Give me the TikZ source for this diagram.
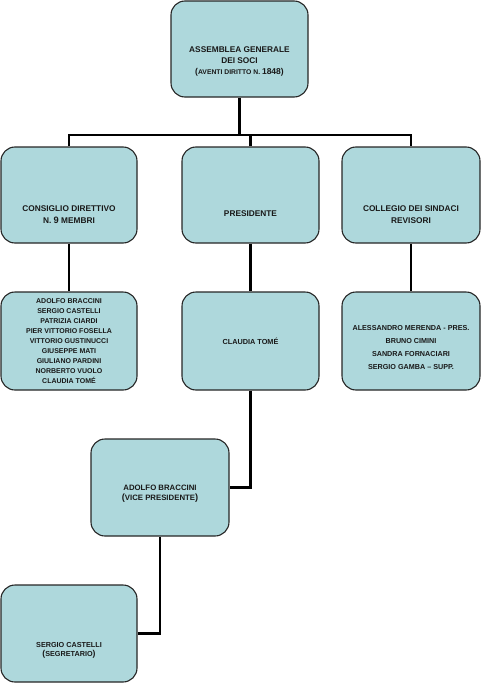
\documentclass[tikz,border=0pt]{standalone}
\usepackage{fontspec}
\setmainfont{Liberation Sans}
\definecolor{boxfill}{RGB}{174,216,220}
\newcommand\fsz[2]{\fontsize{#1}{#2}\selectfont}
\newcommand\bigd[2]{{\fontsize{#1}{10}\selectfont #2}}
\begin{document}
\begin{tikzpicture}[x=1pt,y=-1pt,
  box/.style={draw=black!85, line width=1.1pt, fill=boxfill, rounded corners=14pt, inner sep=0pt},
  conn/.style={line width=2.2pt, black},
  txt/.style={align=center, inner sep=0pt, text=black!90}]
\useasboundingbox (0,0) rectangle (481,685);
% boxes
\node[box, minimum width=137pt, minimum height=96pt] (top) at (239.5,49) {};
\node[box, minimum width=136pt, minimum height=96pt] (b1) at (69,195) {};
\node[box, minimum width=137pt, minimum height=96pt] (b2) at (250.5,195) {};
\node[box, minimum width=138pt, minimum height=96pt] (b3) at (411,195) {};
\node[box, minimum width=136pt, minimum height=98pt] (c1) at (69,341) {};
\node[box, minimum width=137pt, minimum height=98pt] (c2) at (250.5,341) {};
\node[box, minimum width=138pt, minimum height=98pt] (c3) at (411,341) {};
\node[box, minimum width=138pt, minimum height=97pt] (vp) at (160,487.5) {};
\node[box, minimum width=136pt, minimum height=97pt] (sec) at (69,633.5) {};
% texts
\node[txt, font={\bfseries\fsz{8.3}{11.3}}] (ttop) at (239.5,61.5) {ASSEMBLEA GENERALE\\DEI SOCI\\{\fsz{6.8}{11.3}\bigd{8.5}{(}AVENTI DIRITTO N. \bigd{8.5}{1848)}}};
\node[txt, font={\bfseries\fsz{8.3}{12.6}}] (tb1) at (69,214.5) {CONSIGLIO DIRETTIVO\\N. \bigd{9.3}{9} MEMBRI};
\node[txt, font={\bfseries\fsz{8.3}{12.6}}] (tb2) at (250.5,214) {PRESIDENTE};
\node[txt, font={\bfseries\fsz{8.3}{12.6}}] (tb3) at (411,214.5) {COLLEGIO DEI SINDACI\\REVISORI};
\node[txt, font={\bfseries\fsz{7.0}{10.1}}] (tc1) at (69,341) {ADOLFO BRACCINI\\SERGIO CASTELLI\\PATRIZIA CIARDI\\PIER VITTORIO FOSELLA\\VITTORIO GUSTINUCCI\\GIUSEPPE MATI\\GIULIANO PARDINI\\NORBERTO VUOLO\\CLAUDIA TOMÉ};
\node[txt, font={\bfseries\fsz{7.3}{10}}] (tc2) at (250.5,341.7) {CLAUDIA TOMÉ};
\node[txt, font={\bfseries\fsz{7.2}{13}}] (tc3) at (411,347.5) {ALESSANDRO MERENDA - PRES.\\BRUNO CIMINI\\SANDRA FORNACIARI\\SERGIO GAMBA -- SUPP.};
\node[txt, font={\bfseries\fsz{7.8}{10}}] (tvp) at (160,494) {ADOLFO BRACCINI\\\bigd{9.2}{(}VICE PRESIDENTE\bigd{9.2}{)}};
\node[txt, font={\bfseries\fsz{7.25}{9.6}}] (tsec) at (69,650.5) {SERGIO CASTELLI\\\bigd{8.6}{(}SEGRETARIO\bigd{8.6}{)}};
% connectors
\coordinate (bus) at (239,135);
\draw[conn] (top.south) -- (top.south |- bus);
\draw[conn] (b1.north) -- (b1.north |- bus) -- (b3.north |- bus) -- (b3.north);
\draw[conn] (b2.north) -- (b2.north |- bus);
\draw[conn] (b1.south) -- (c1.north);
\draw[conn] (b2.south) -- (c2.north);
\draw[conn] (b3.south) -- (c3.north);
\draw[conn] (c2.south) |- (vp.east);
\draw[conn] (vp.south) |- (sec.east);
\end{tikzpicture}
\end{document}
